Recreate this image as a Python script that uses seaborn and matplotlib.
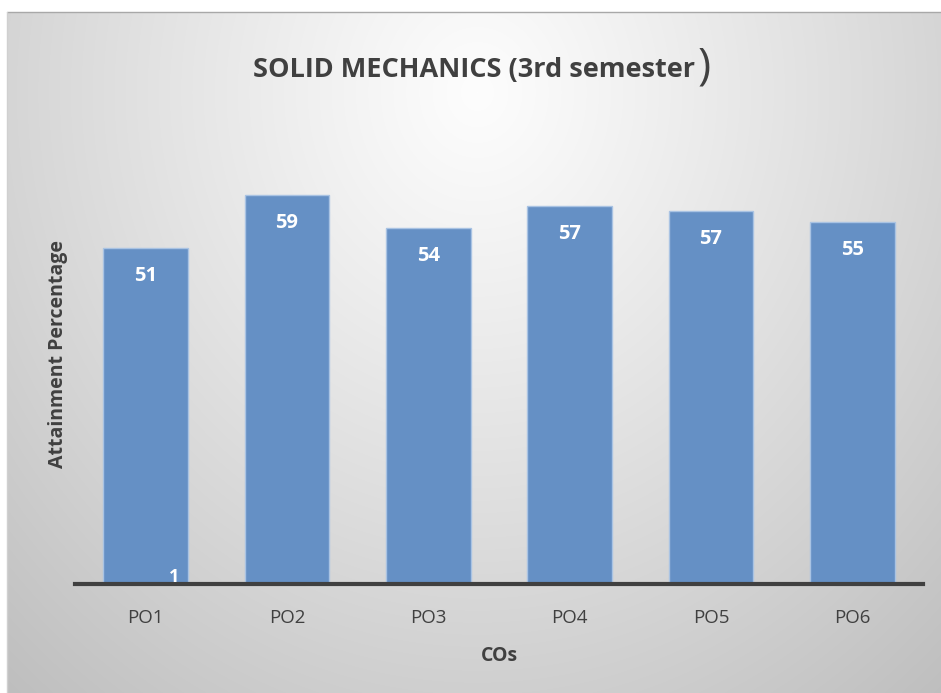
import numpy as np
import pandas as pd
import matplotlib
matplotlib.use("Agg")
import matplotlib.pyplot as plt
import seaborn as sns

categories = ["PO1", "PO2", "PO3", "PO4", "PO5", "PO6"]
values = [51.0, 59.0, 54.0, 57.4, 56.6, 55.0]
title = "SOLID MECHANICS (3rd semester"
xlabel = "COs"
ylabel = "Attainment Percentage"

sns.set_style("white")
plt.rcParams["font.family"] = ["Open Sans", "DejaVu Sans"]

W, H = 941, 693
fig = plt.figure(figsize=(W / 100, H / 100), dpi=100)
fig.patch.set_facecolor("white")

# background gradient panel
bg = fig.add_axes([7 / W, 0, 1 - 7 / W, 1 - 12 / H], zorder=-5)
yy, xx = np.mgrid[0:681, 0:934]
cx, cy = 470, 80
d = np.sqrt(((xx - cx) / 640) ** 2 + ((yy - cy) / 720) ** 2)
g = 253 - 56 * np.clip(d, 0, 1.2) ** 1.1
img = np.dstack([g, g, g]).astype(np.uint8)
bg.imshow(img, aspect="auto", interpolation="bilinear")
bg.set_axis_off()
fig.add_artist(plt.Line2D([7 / W, 1], [1 - 12 / H, 1 - 12 / H], color="#a8a8a8", lw=1))
fig.add_artist(plt.Line2D([7 / W, 7 / W], [0, 1 - 12 / H], color="#d0d0d0", lw=1))

left, right = 75 / W, 923 / W
bottom, top = (H - 584) / H, (H - 123) / H
ax = fig.add_axes([left, bottom, right - left, top - bottom])
ax.set_facecolor("none")

df = pd.DataFrame({"cat": categories, "val": values})
sns.barplot(data=df, x="cat", y="val", color="#6590c5", width=0.6,
            edgecolor="#a9c3e3", linewidth=1.0, saturation=1, ax=ax)

ax.set_ylim(0, 70)
ax.set_xlim(-0.5, 5.5)
for s in ["top", "right", "left"]:
    ax.spines[s].set_visible(False)
ax.spines["bottom"].set_color("#404040")
ax.spines["bottom"].set_linewidth(3)
ax.set_yticks([])
ax.tick_params(axis="x", length=0, pad=18, labelsize=13.5, labelcolor="#404040")

for i, v in enumerate(values):
    ax.annotate(f"{v:.0f}", xy=(i, v), xytext=(0, -20), textcoords="offset points",
                ha="center", va="center", color="white", fontsize=14.5, fontweight="bold")
ax.annotate("1", xy=(0, 0), xytext=(20.5, 5), textcoords="offset points",
            ha="center", va="center", color="white", fontsize=13, fontweight="bold",
            zorder=5)

ax.set_xlabel(xlabel, fontsize=14, fontweight="bold", color="#404040", labelpad=14)
ax.set_ylabel(ylabel, fontsize=14, fontweight="bold", color="#404040", labelpad=5)

tt = fig.text(253 / W, 1 - 70 / H, title, ha="left", va="center", fontsize=19.5,
              fontweight="bold", color="#404040")
ax.annotate(")", xy=(1, 0.5), xycoords=tt, xytext=(2, 2), textcoords="offset points",
            ha="left", va="center", fontsize=32, color="#404040", annotation_clip=False)

fig.savefig("out.png", dpi=100)
